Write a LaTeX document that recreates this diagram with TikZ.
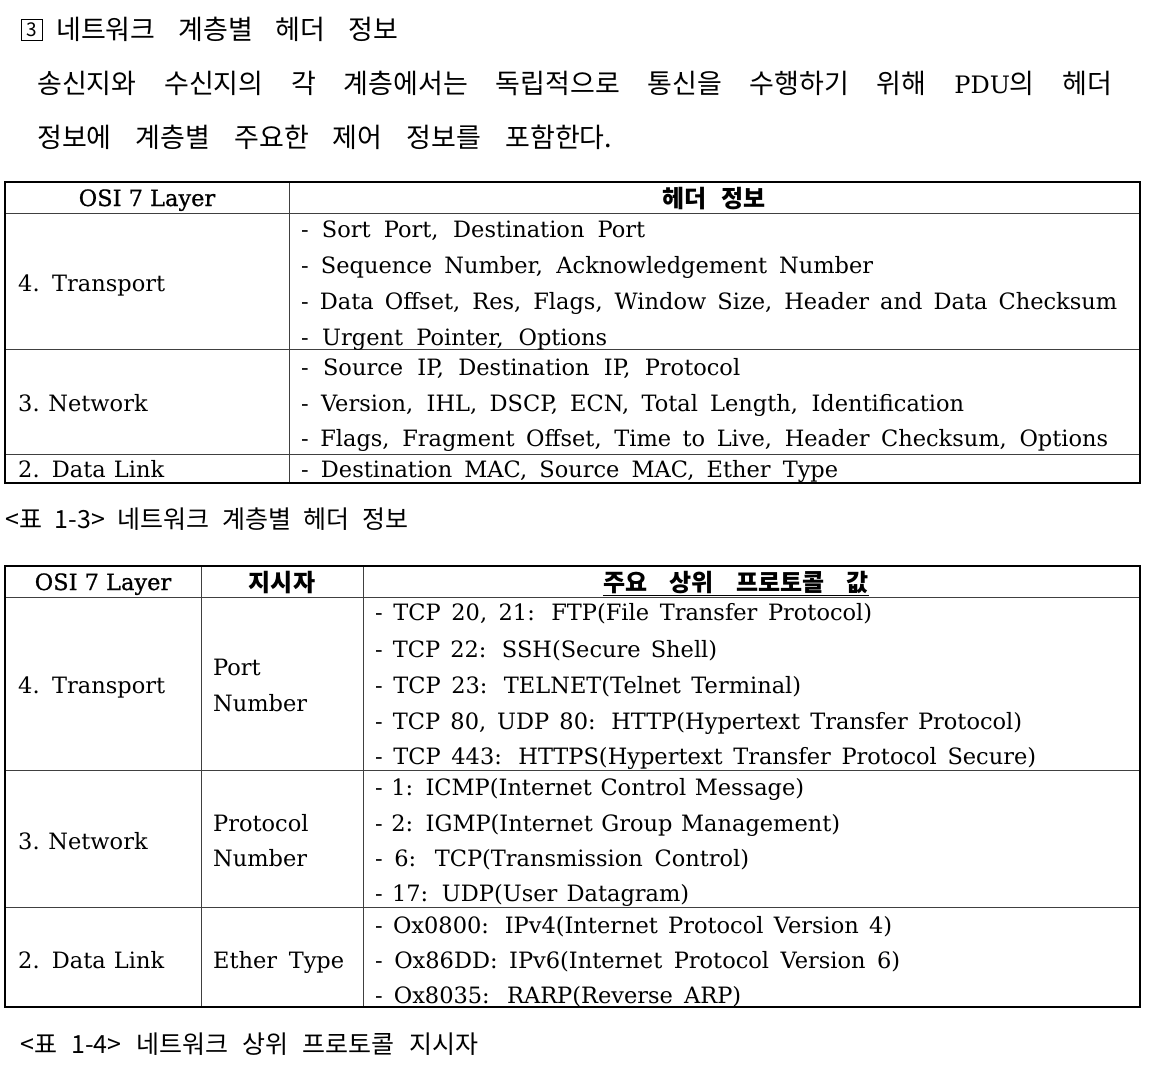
\documentclass[tikz,border=0pt]{standalone}
\usepackage{fontspec}
\setmainfont{DejaVu Serif}
\newfontfamily\kr{Noto Sans CJK KR}
\newfontfamily\semib{DejaVu Serif}[FakeBold=0.8]
\newcommand\fitw[2]{\makebox[#1pt][s]{#2}}
\tikzset{
  txt/.style={anchor=base west, inner sep=0pt, font=\fontsize{22.5}{24}\selectfont},
  ktxt/.style={anchor=base west, inner sep=0pt, font=\kr\fontsize{27}{28}\selectfont},
  hdr/.style={anchor=base, inner sep=0pt, font=\semib\fontsize{22.5}{24}\selectfont},
  khdr/.style={anchor=base, inner sep=0pt, font=\kr\bfseries\fontsize{24}{24}\selectfont},
  captxt/.style={anchor=base west, inner sep=0pt, font=\kr\fontsize{25}{26}\selectfont},
  outerln/.style={line width=1.5pt, black},
  innerln/.style={line width=0.9pt, black!75},
}
\begin{document}
\begin{tikzpicture}[x=1pt,y=-1pt]
\useasboundingbox (0,0) rectangle (1158,1078);
% title
\node[draw, line width=0.7pt, minimum width=21pt, minimum height=21pt, inner sep=0pt, font=\kr\fontsize{19}{19}\selectfont] (num) at (32,30) {3};
\node[ktxt] (title) at (56,40) {\fitw{342}{네트워크 계층별 헤더 정보}};
\node[ktxt] (para1) at (37,94) {\fitw{1075}{송신지와 수신지의 각 계층에서는 독립적으로 통신을 수행하기 위해 {\rmfamily\fontsize{24}{24}\selectfont PDU}의 헤더}};
\node[ktxt] (para2) at (37,148) {\fitw{575}{정보에 계층별 주요한 제어 정보를 포함한다.}};
% ---------------- table 1
\draw[innerln] (5,213) -- (1140,213);
\draw[innerln] (5,349) -- (1140,349);
\draw[innerln] (5,454) -- (1140,454);
\draw[innerln] (289,182) -- (289,483);
\draw[outerln] (5,182) rectangle (1140,483);
\node[hdr] (h1a) at (147,206) {OSI 7 Layer};
\node[khdr] (h1b) at (714,207) {\fitw{103}{헤더 정보}};
\node[txt] (r1a) at (18,291) {\fitw{147}{4. Transport}};
\node[txt] (r1b) at (18,411) {\fitw{127}{3. Network}};
\node[txt] (r1c) at (18,477) {\fitw{146}{2. Data Link}};
\node[txt] (a1) at (301,237) {\fitw{344}{- Sort Port, Destination Port}};
\node[txt] (a2) at (301,273) {\fitw{572}{- Sequence Number, Acknowledgement Number}};
\node[txt] (a3) at (301,309) {\fitw{816}{- Data Offset, Res, Flags, Window Size, Header and Data Checksum}};
\node[txt] (a4) at (301,345) {\fitw{306}{- Urgent Pointer, Options}};
\node[txt] (b1) at (301,375) {\fitw{439}{- Source IP, Destination IP, Protocol}};
\node[txt] (b2) at (301,411) {\fitw{663}{- Version, IHL, DSCP, ECN, Total Length, Identification}};
\node[txt] (b3) at (301,446) {\fitw{807}{- Flags, Fragment Offset, Time to Live, Header Checksum, Options}};
\node[txt] (c1) at (301,477) {\fitw{537}{- Destination MAC, Source MAC, Ether Type}};
\node[captxt] (cap1) at (5,528) {\fitw{403}{<표 1-3> 네트워크 계층별 헤더 정보}};
% ---------------- table 2
\draw[innerln] (5,597) -- (1140,597);
\draw[innerln] (5,770) -- (1140,770);
\draw[innerln] (5,907) -- (1140,907);
\draw[innerln] (201,566) -- (201,1007);
\draw[innerln] (363,566) -- (363,1007);
\draw[outerln] (5,566) rectangle (1140,1007);
\node[hdr] (h2a) at (103,590) {OSI 7 Layer};
\node[khdr] (h2b) at (282,591) {지시자};
\node[khdr] (h2c) at (736,591) {\underline{\fitw{266}{주요 상위 프로토콜 값}}};
\node[txt] (s1) at (18,693) {\fitw{147}{4. Transport}};
\node[txt] (s1i) at (213,675) {Port};
\node[txt] (s1j) at (213,711) {Number};
\node[txt] (s2) at (18,849) {\fitw{127}{3. Network}};
\node[txt] (s2i) at (213,831) {Protocol};
\node[txt] (s2j) at (213,866) {Number};
\node[txt] (s3) at (18,968) {\fitw{146}{2. Data Link}};
\node[txt] (s3i) at (213,968) {\fitw{131}{Ether Type}};
\node[txt] (p1) at (375,620) {\fitw{497}{- TCP 20, 21: FTP(File Transfer Protocol)}};
\node[txt] (p2) at (375,657) {\fitw{342}{- TCP 22: SSH(Secure Shell)}};
\node[txt] (p3) at (375,693) {\fitw{426}{- TCP 23: TELNET(Telnet Terminal)}};
\node[txt] (p4) at (375,729) {\fitw{647}{- TCP 80, UDP 80: HTTP(Hypertext Transfer Protocol)}};
\node[txt] (p5) at (375,764) {\fitw{661}{- TCP 443: HTTPS(Hypertext Transfer Protocol Secure)}};
\node[txt] (q1) at (375,795) {\fitw{429}{- 1: ICMP(Internet Control Message)}};
\node[txt] (q2) at (375,831) {\fitw{465}{- 2: IGMP(Internet Group Management)}};
\node[txt] (q3) at (375,866) {\fitw{374}{- 6: TCP(Transmission Control)}};
\node[txt] (q4) at (375,901) {\fitw{314}{- 17: UDP(User Datagram)}};
\node[txt] (e1) at (375,933) {\fitw{517}{- Ox0800: IPv4(Internet Protocol Version 4)}};
\node[txt] (e2) at (375,968) {\fitw{525}{- Ox86DD: IPv6(Internet Protocol Version 6)}};
\node[txt] (e3) at (375,1003) {\fitw{366}{- Ox8035: RARP(Reverse ARP)}};
\node[captxt] (cap2) at (20,1053) {\fitw{458}{<표 1-4> 네트워크 상위 프로토콜 지시자}};
\end{tikzpicture}
\end{document}
